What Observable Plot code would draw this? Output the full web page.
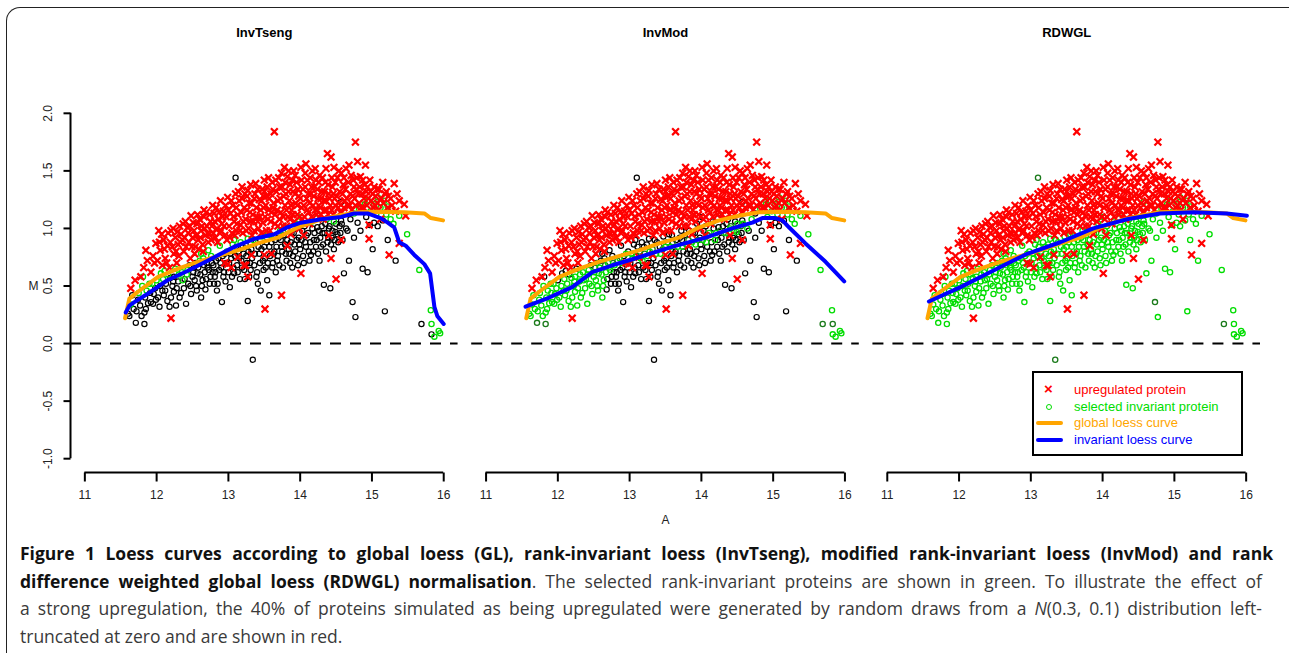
<!DOCTYPE html>
<html>
<head>
<meta charset="utf-8">
<script src="https://cdn.jsdelivr.net/npm/d3@7"></script>
<script src="https://cdn.jsdelivr.net/npm/@observablehq/plot@0.6"></script>
<style>
  html, body { margin: 0; padding: 0; background: #fff; }
  body { width: 1289px; height: 653px; position: relative; overflow: hidden; }
  #frame { position: absolute; left: 6px; top: 7px; width: 1300px; height: 700px;
           border-top: 1px solid #222; border-left: 1px solid #222; border-top-left-radius: 14px; }
  #chart { position: absolute; left: 0; top: 0; }
  #legend { position: absolute; left: 1032px; top: 371px; width: 207px; height: 81px;
            border: 2px solid #000; background: #fff; font-family: "Liberation Sans", Arial, sans-serif; font-size: 13px; }
  #legend .row { position: absolute; left: 0; height: 16px; line-height: 16px; }
  #legend .txt { position: absolute; left: 40px; white-space: nowrap; }
  #legend .sym { position: absolute; }
  #caption { position: absolute; left: 20px; top: 540px; width: 1242px;
             font-family: "Open Sans", sans-serif; font-size: 17.5px; line-height: 27.5px; color: #3a3a3a; }
  #caption .ln { text-align: justify; text-align-last: justify; white-space: nowrap; }
  #caption .ln.last { text-align-last: left; }
  #caption b { color: #111; font-weight: 700; }
</style>
</head>
<body>
<div id="frame"></div>
<div id="chart"></div>
<div id="legend">
  <div class="row" style="top:9px;width:100%"><span class="sym" style="left:10px;top:-1px;color:#f00;font-weight:bold;font-size:15px">×</span><span class="txt" style="color:#f00">upregulated protein</span></div>
  <div class="row" style="top:26px;width:100%"><span class="sym" style="left:12px;top:5px;width:4px;height:4px;border:1.3px solid #00dd00;border-radius:50%"></span><span class="txt" style="color:#00dd00">selected invariant protein</span></div>
  <div class="row" style="top:42px;width:100%"><span class="sym" style="left:2px;top:6px;width:27px;height:4px;background:#FFA500;border-radius:2px"></span><span class="txt" style="color:#FFA500">global loess curve</span></div>
  <div class="row" style="top:59px;width:100%"><span class="sym" style="left:2px;top:6px;width:27px;height:4px;background:#0000FF;border-radius:2px"></span><span class="txt" style="color:#0000FF">invariant loess curve</span></div>
</div>
<div id="caption">
  <div class="ln" id="l1" style="width:1253px"><b>Figure 1 Loess curves according to global loess (GL), rank-invariant loess (InvTseng), modified rank-invariant loess (InvMod) and rank</b></div>
  <div class="ln"><b>difference weighted global loess (RDWGL) normalisation</b>. The selected rank-invariant proteins are shown in green. To illustrate the effect of</div>
  <div class="ln">a strong upregulation, the 40% of proteins simulated as being upregulated were generated by random draws from a <i>N</i>(0.3, 0.1) distribution left-</div>
  <div class="ln last">truncated at zero and are shown in red.</div>
</div>
<script>
const panels = ["InvTseng", "InvMod", "RDWGL"];
const xTicks = [11, 12, 13, 14, 15, 16];
const yTicks = [-1, -0.5, 0, 0.5, 1, 1.5, 2];

// upregulated proteins [A, M] (same proteins in every panel)
const upregulated = [
 [11.64,0.48],[11.70,0.55],[11.78,0.58],[11.82,0.66],[11.85,0.81],[11.87,0.72],[11.92,0.62],[11.95,0.76],[11.99,0.87],[11.97,0.70],
 [12.03,0.98],[12.05,0.81],[12.08,0.68],[12.10,0.90],[12.12,0.74],[12.15,0.85],[12.18,0.66],[12.20,0.98],[12.20,0.22],[12.24,0.78],
 [12.26,0.92],[12.28,0.70],[12.30,0.86],[12.32,1.02],[12.34,0.95],[12.36,0.90],[12.38,0.80],[12.40,1.06],[12.43,1.01],[12.45,0.88],
 [12.48,1.11],[12.50,0.92],[12.47,0.74],
 [12.52,0.98],[12.54,0.84],[12.56,1.04],[12.58,0.90],[12.60,1.08],[12.62,0.98],[12.64,0.86],[12.66,1.10],[12.66,1.16],[12.68,0.94],
 [12.70,1.02],[12.72,0.88],[12.73,0.95],[12.75,1.06],[12.78,1.20],[12.80,1.13],[12.82,0.92],[12.84,1.00],[12.86,1.08],[12.88,0.96],
 [12.89,1.24],[12.91,1.04],[12.93,1.15],[12.95,0.94],[12.97,1.10],[12.99,1.27],[12.99,0.69],[12.95,0.70],
 [13.01,1.02],[13.03,1.13],[13.05,0.96],[13.06,1.20],[13.08,1.06],[13.10,1.30],[13.11,0.98],[13.13,1.12],[13.13,0.75],[13.15,1.24],
 [13.17,1.03],[13.19,1.36],[13.20,0.96],[13.22,1.18],[13.24,1.08],[13.24,0.68],[13.26,1.28],[13.27,1.33],[13.27,0.58],[13.28,1.00],
 [13.30,1.14],[13.32,1.22],[13.33,0.94],[13.35,1.06],[13.37,1.30],[13.38,1.39],[13.40,1.10],[13.42,1.00],[13.43,1.25],[13.45,1.16],
 [13.47,1.34],[13.48,1.05],[13.50,1.42],[13.50,1.32],[13.50,0.77],[13.51,0.30],[13.04,0.66],[13.22,0.68],[13.32,0.77],
 [13.52,1.20],[13.54,1.36],[13.55,1.08],[13.57,1.26],[13.58,0.98],[13.60,1.14],[13.61,1.40],[13.63,1.22],[13.64,1.84],[13.65,1.04],
 [13.67,1.32],[13.68,1.16],[13.70,1.44],[13.71,1.08],[13.72,1.26],[13.74,0.42],[13.75,1.36],[13.76,1.02],[13.78,1.53],[13.79,1.20],
 [13.80,1.30],[13.82,1.45],[13.82,0.85],[13.83,1.10],[13.85,1.24],[13.86,1.38],[13.87,0.95],[13.88,1.16],[13.90,1.32],[13.91,1.50],
 [13.92,1.06],[13.94,1.22],[13.95,1.40],[13.96,1.12],[13.98,1.28],[13.99,1.00],[13.60,0.78],
 [14.01,1.53],[14.01,0.61],[14.02,1.18],[14.04,1.34],[14.05,0.94],[14.06,1.10],[14.08,1.56],[14.09,1.26],[14.10,1.42],[14.12,1.14],
 [14.13,1.04],[14.15,1.30],[14.17,1.50],[14.18,1.20],[14.20,1.36],[14.22,1.42],[14.23,1.12],[14.25,1.26],[14.27,1.46],[14.28,1.18],
 [14.30,1.32],[14.32,1.08],[14.33,1.24],[14.35,1.40],[14.37,1.16],[14.38,1.65],[14.40,1.30],[14.40,0.94],[14.42,1.20],[14.43,1.62],
 [14.43,0.74],[14.45,1.36],[14.46,1.12],[14.47,1.53],[14.48,1.26],[14.50,0.56],
 [14.52,1.44],[14.53,1.18],[14.55,1.32],[14.57,1.48],[14.57,0.90],[14.58,1.14],[14.60,1.38],[14.62,1.24],[14.64,1.52],[14.66,1.20],
 [14.68,1.55],[14.70,1.30],[14.72,1.16],[14.74,1.42],[14.76,1.26],[14.77,1.75],[14.78,1.34],[14.80,1.58],[14.82,1.22],[14.84,1.45],
 [14.86,1.30],[14.88,1.18],[14.90,1.38],[14.91,1.55],[14.94,1.36],[14.95,1.26],[14.96,1.03],[14.96,0.91],[14.98,1.32],
 [15.02,1.18],[15.03,1.36],[15.05,1.28],[15.08,1.22],[15.10,1.34],[15.12,1.08],[15.15,1.40],[15.18,1.30],[15.22,1.18],[15.24,0.77],
 [15.26,1.26],[15.31,1.39],[15.33,1.15],[15.38,1.24],[15.38,0.87],[15.45,1.21],[15.47,1.11],
 [12.01,0.72],[12.04,0.88],[12.07,0.95],[12.11,0.82],[12.14,0.70],[12.16,0.96],[12.19,0.88],[12.22,0.84],[12.23,1.00],[12.27,0.80],
 [12.29,0.97],[12.31,0.76],[12.33,0.88],[12.37,1.04],[12.39,0.92],[12.41,0.84],[12.44,0.96],[12.46,1.02],[12.49,0.84],[12.51,1.05],
 [12.53,0.78],[12.55,0.94],[12.57,1.12],[12.59,0.82],
 [12.61,0.92],[12.63,1.02],[12.65,0.80],[12.67,1.00],[12.69,1.14],[12.71,0.96],[12.74,1.12],[12.76,0.90],[12.77,1.02],[12.79,0.96],
 [12.81,1.06],[12.83,1.18],[12.85,0.88],[12.87,1.14],[12.90,0.98],[12.92,1.10],[12.94,1.02],[12.96,1.20],[12.98,0.90],
 [13.00,1.16],[13.02,0.92],[13.04,1.24],[13.07,1.10],[13.09,0.94],[13.11,1.18],[13.12,1.04],[13.14,1.32],[13.16,0.98],[13.18,1.14],
 [13.19,1.26],[13.21,1.06],[13.23,1.30],[13.25,0.98],[13.26,1.16],[13.29,1.22],[13.31,1.06],[13.31,1.38],[13.34,1.12],[13.36,1.26],
 [13.36,0.98],[13.39,1.18],[13.41,1.34],[13.41,1.06],[13.44,1.10],[13.46,1.24],[13.46,0.96],[13.49,1.18],[13.49,1.28],
 [13.51,1.10],[13.53,1.28],[13.53,0.98],[13.56,1.16],[13.56,1.44],[13.59,1.30],[13.59,1.06],[13.62,1.18],[13.62,1.34],[13.65,1.12],
 [13.66,1.42],[13.69,1.24],[13.69,1.02],[13.71,1.36],[13.73,1.14],[13.74,1.48],[13.77,1.28],[13.77,1.10],[13.79,1.40],[13.81,1.16],
 [13.81,1.02],[13.84,1.32],[13.84,1.50],[13.86,1.08],[13.87,1.20],[13.89,1.42],[13.90,1.12],[13.93,1.30],[13.93,1.46],[13.96,1.20],
 [13.97,1.34],[13.99,1.10],
 [14.00,1.26],[14.02,1.42],[14.03,1.08],[14.05,1.20],[14.07,1.36],[14.07,1.48],[14.10,1.16],[14.11,1.30],[14.13,1.22],[14.14,1.44],
 [14.16,1.10],[14.16,1.36],[14.19,1.28],[14.21,1.16],[14.21,1.52],[14.24,1.34],[14.26,1.20],[14.26,1.40],[14.29,1.26],[14.29,1.12],
 [14.31,1.44],[14.34,1.16],[14.34,1.32],[14.36,1.24],[14.36,1.52],[14.39,1.12],[14.39,1.38],[14.41,1.26],[14.44,1.44],[14.44,1.16],
 [14.46,1.30],[14.49,1.20],[14.49,1.40],
 [14.51,1.28],[14.54,1.22],[14.54,1.50],[14.56,1.14],[14.59,1.30],[14.61,1.44],[14.61,1.18],[14.63,1.34],[14.65,1.26],[14.67,1.40],
 [14.69,1.20],[14.71,1.46],[14.73,1.28],[14.75,1.36],[14.77,1.20],[14.79,1.44],[14.81,1.30],[14.83,1.36],[14.85,1.18],[14.87,1.42],
 [14.89,1.26],[14.92,1.32],[14.93,1.20],[14.97,1.42],[14.99,1.24],[15.01,1.30],[15.04,1.20],[15.07,1.34],[15.09,1.16],[15.13,1.26],
 [15.16,1.22],[15.20,1.32],[15.23,1.28],[15.28,1.20],[15.35,1.30]
];

// other proteins [A, M, selected InvTseng, selected InvMod, selected RDWGL]  (0 = not selected, 1 = selected, 2 = selected, low weight)
const unregulated = [
 [11.60,0.26,0,1,1],[11.62,0.24,0,1,1],[11.64,0.34,1,1,1],[11.66,0.42,0,1,1],[11.68,0.30,0,1,1],[11.71,0.18,0,2,1],[11.72,0.28,0,1,1],
 [11.74,0.38,0,1,1],[11.75,0.44,1,1,1],[11.77,0.33,0,1,1],[11.79,0.24,0,1,1],[11.80,0.50,1,1,1],[11.81,0.58,1,0,1],[11.83,0.17,0,2,1],
 [11.83,0.27,0,1,1],[11.84,0.40,0,1,1],[11.86,0.46,1,1,1],[11.88,0.35,0,1,1],[11.90,0.52,1,1,1],[11.92,0.36,0,1,1],[11.95,0.345,0,1,1],
 [11.96,0.43,0,1,1],[11.98,0.48,0,1,1],[12.00,0.55,1,0,1],
 [12.02,0.40,0,1,1],[12.04,0.32,0,1,1],[12.06,0.61,1,0,1],[12.08,0.46,0,1,1],[12.10,0.42,0,1,1],[12.11,0.63,1,0,1],[12.13,0.52,0,1,1],
 [12.15,0.37,0,1,1],[12.18,0.32,0,1,1],[12.19,0.57,0,1,1],[12.22,0.50,0,1,1],[12.24,0.45,0,1,1],[12.24,0.58,0,1,1],[12.26,0.65,1,0,1],
 [12.27,0.33,0,1,1],[12.30,0.54,0,1,1],[12.32,0.40,0,1,1],[12.35,0.62,1,1,1],[12.36,0.55,1,1,1],[12.38,0.48,0,1,1],[12.41,0.345,0,1,1],
 [12.42,0.60,1,1,1],[12.44,0.52,0,1,1],[12.46,0.68,0,0,1],[12.48,0.43,0,1,1],
 [12.50,0.58,0,1,1],[12.52,0.66,0,2,1],[12.55,0.50,0,1,1],[12.57,0.61,0,1,1],[12.60,0.72,1,0,1],[12.62,0.40,0,1,1],[12.62,0.78,1,0,1],
 [12.64,0.55,0,1,1],[12.66,0.68,0,2,1],[12.68,0.47,0,0,1],[12.71,0.66,0,1,1],[12.72,0.81,1,0,1],[12.75,0.58,0,0,1],[12.77,0.70,0,2,1],
 [12.80,0.52,0,0,1],[12.82,0.62,0,0,1],[12.85,0.52,0,0,1],[12.86,0.74,0,1,1],[12.88,0.85,1,0,1],[12.90,0.66,0,0,1],[12.91,0.36,0,0,1],
 [12.93,0.58,0,0,1],[12.95,0.78,0,1,1],[12.97,0.70,0,1,1],
 [13.00,0.62,0,0,1],[13.02,0.49,0,0,1],[13.04,0.74,0,1,1],[13.06,0.86,1,0,1],[13.08,0.61,0,0,1],[13.08,0.90,1,0,1],[13.10,1.44,0,0,2],
 [13.12,0.68,0,0,1],[13.14,0.80,0,2,1],[13.16,0.56,0,0,1],[13.18,0.72,0,1,1],[13.20,0.84,0,0,1],[13.22,0.64,0,0,1],[13.25,0.76,0,1,1],
 [13.27,0.37,0,0,1],[13.27,0.91,1,0,1],[13.29,0.58,0,0,1],[13.30,0.70,0,0,1],[13.32,0.82,0,2,1],[13.34,-0.14,0,0,2],[13.36,0.68,0,0,1],
 [13.38,0.88,0,0,1],[13.40,0.62,0,0,1],[13.41,0.52,0,0,1],[13.43,0.78,0,1,1],[13.45,0.46,0,0,1],[13.47,0.93,1,0,1],[13.48,0.72,0,0,1],
 [13.50,0.84,0,1,1],[13.52,0.66,0,0,1],[13.54,0.55,0,0,1],[13.55,0.95,1,0,1],[13.57,0.42,0,0,1],[13.58,0.76,0,0,1],[13.60,0.88,0,2,1],
 [13.62,0.70,0,0,1],[13.64,0.80,0,0,1],[13.66,0.62,0,0,1],[13.68,0.72,0,0,1],[13.70,0.92,0,0,1],[13.72,0.98,1,0,1],[13.74,0.84,0,1,1],
 [13.76,0.66,0,0,1],[13.78,1.01,1,0,1],[13.80,0.78,0,0,1],[13.82,0.90,0,2,1],[13.85,0.78,0,0,1],[13.86,0.70,0,0,1],[13.88,0.96,0,0,1],
 [13.89,0.66,0,0,1],[13.92,0.86,0,1,1],[13.94,1.04,1,0,1],[13.96,0.74,0,0,1],[13.98,0.92,0,0,1],
 [14.00,0.82,0,0,1],[14.01,1.10,1,0,1],[14.03,0.98,0,0,1],[14.05,0.70,0,0,1],[14.07,0.88,0,1,1],[14.09,0.94,0,2,1],[14.12,0.80,0,0,1],
 [14.15,0.77,0,0,1],[14.17,1.00,0,0,1],[14.19,0.90,0,1,1],[14.22,0.84,0,0,1],[14.24,1.13,1,0,1],[14.24,1.01,0,0,1],[14.27,0.72,0,0,1],
 [14.29,0.84,0,0,1],[14.31,0.96,0,2,1],[14.33,0.51,0,0,1],[14.35,1.04,0,0,1],[14.38,0.88,0,0,1],[14.40,1.00,0,1,1],[14.42,0.48,0,0,1],
 [14.44,0.92,0,0,1],[14.47,0.82,0,0,1],[14.47,1.06,1,0,1],[14.49,0.97,0,1,1],
 [14.52,0.95,0,0,1],[14.55,1.02,0,2,1],[14.57,1.23,0,0,1],[14.57,1.07,0,0,1],[14.59,0.90,0,0,1],[14.61,0.61,0,0,1],[14.64,1.00,0,1,1],
 [14.66,0.98,0,0,1],[14.68,0.72,0,0,1],[14.70,1.08,0,1,1],[14.73,0.36,0,0,2],[14.75,0.92,0,0,1],[14.75,1.13,1,0,1],[14.77,0.23,0,0,1],
 [14.80,1.05,0,0,1],[14.82,1.17,1,1,1],[14.84,0.98,0,0,1],[14.87,0.65,0,0,1],[14.90,1.21,1,1,1],[14.92,1.10,0,1,1],[14.94,0.62,0,0,1],
 [14.94,1.24,1,1,1],[14.97,1.03,0,0,1],[14.98,1.15,1,1,1],
 [15.01,0.82,0,0,1],[15.03,1.05,0,0,1],[15.03,1.21,1,1,1],[15.06,1.12,1,1,1],[15.08,1.27,1,1,1],[15.08,1.02,0,0,1],[15.12,1.18,1,1,1],
 [15.15,1.07,0,0,1],[15.17,1.24,1,1,1],[15.18,0.28,0,0,1],[15.20,1.12,1,1,1],[15.22,0.90,0,0,1],[15.22,1.19,1,1,1],[15.26,1.08,1,1,1],
 [15.30,1.04,1,1,1],[15.33,0.72,0,0,1],[15.38,1.11,1,1,1],[15.49,0.95,1,1,1],[15.66,0.64,1,1,1],[15.69,0.17,0,2,2],[15.82,0.29,1,1,1],
 [15.83,0.17,1,2,1],[15.83,0.08,0,1,1],[15.87,0.06,1,1,1],[15.93,0.11,1,1,1],[15.95,0.09,1,1,1],
 [12.51,0.62,0,1,1],[12.53,0.55,0,1,1],[12.54,0.70,0,2,1],[12.56,0.46,0,1,1],[12.58,0.66,0,1,1],[12.61,0.60,0,1,1],[12.63,0.50,0,1,1],
 [12.65,0.74,1,0,1],[12.67,0.62,0,1,1],[12.69,0.56,0,0,1],[12.70,0.70,0,1,1],[12.73,0.64,0,1,1],[12.74,0.52,0,0,1],[12.76,0.76,1,0,1],
 [12.78,0.62,0,0,1],[12.79,0.68,0,1,1],[12.81,0.58,0,0,1],[12.83,0.72,0,2,1],[12.84,0.46,0,0,1],[12.87,0.64,0,0,1],[12.89,0.70,0,1,1],
 [12.92,0.76,0,0,1],[12.94,0.62,0,0,1],[12.96,0.54,0,0,1],[12.98,0.80,1,0,1],
 [13.01,0.70,0,0,1],[13.03,0.78,0,1,1],[13.05,0.58,0,0,1],[13.07,0.66,0,0,1],[13.09,0.76,0,2,1],[13.11,0.84,0,0,1],[13.13,0.62,0,0,1],
 [13.15,0.74,0,1,1],[13.17,0.88,1,0,1],[13.19,0.66,0,0,1],[13.21,0.78,0,2,1],[13.23,0.56,0,0,1],[13.24,0.86,0,0,1],[13.26,0.70,0,0,1],
 [13.28,0.80,0,1,1],[13.31,0.64,0,0,1],[13.33,0.74,0,0,1],[13.35,0.90,1,0,1],[13.37,0.78,0,1,1],[13.39,0.58,0,0,1],[13.42,0.84,0,0,1],
 [13.44,0.70,0,0,1],[13.46,0.82,0,2,1],[13.49,0.64,0,0,1],
 [13.51,0.74,0,0,1],[13.53,0.88,0,0,1],[13.55,0.70,0,0,1],[13.57,0.84,0,1,1],[13.59,0.94,1,0,1],[13.61,0.66,0,0,1],[13.63,0.78,0,0,1],
 [13.65,0.90,0,0,1],[13.67,0.84,0,1,1],[13.69,0.76,0,0,1],[13.71,0.68,0,0,1],[13.73,0.90,0,0,1],[13.75,0.80,0,0,1],[13.77,0.94,0,0,1],
 [13.79,0.86,0,2,1],[13.81,0.72,0,0,1],[13.83,0.98,1,0,1],[13.84,0.82,0,0,1],[13.87,0.88,0,1,1],[13.90,0.76,0,0,1],[13.91,0.96,0,0,1],
 [13.93,0.80,0,0,1],[13.95,0.90,0,2,1],[13.97,0.68,0,0,1],[13.99,0.86,0,0,1],
 [14.02,0.90,0,1,1],[14.04,0.76,0,0,1],[14.06,1.02,0,0,1],[14.08,0.84,0,0,1],[14.11,0.96,0,1,1],[14.13,0.72,0,0,1],[14.14,0.88,0,0,1],
 [14.16,1.06,1,0,1],[14.18,0.80,0,0,1],[14.20,0.96,0,1,1],[14.23,0.90,0,0,1],[14.25,0.78,0,0,1],[14.26,0.98,0,2,1],[14.28,0.92,0,0,1],
 [14.30,1.02,0,0,1],[14.32,0.86,0,0,1],[14.34,0.96,0,1,1],[14.36,0.80,0,0,1],[14.37,1.08,1,0,1],[14.39,0.92,0,0,1],[14.41,1.02,0,2,1],
 [14.43,0.86,0,0,1],[14.45,0.98,0,1,1],[14.48,0.90,0,0,1],[14.50,1.04,0,1,1],[14.53,0.88,0,0,1],[14.56,0.96,0,0,1],[14.58,1.04,0,1,1],
 [11.85,0.30,0,1,1],[11.91,0.44,0,1,1],[11.94,0.52,1,1,1],[11.99,0.38,0,1,1],[12.05,0.50,0,1,1],[12.09,0.56,1,1,1],[12.12,0.46,0,1,1],
 [12.16,0.60,1,0,1],[12.20,0.40,0,1,1],[12.23,0.54,0,1,1],[12.28,0.48,0,1,1],[12.31,0.60,1,1,1],[12.34,0.44,0,1,1],[12.39,0.56,0,1,1],
 [12.43,0.64,1,1,1],[12.47,0.50,0,1,1]
];

// loess curves [A, M]
const globalLoess = [
 [11.56,0.22],[11.62,0.39],[11.74,0.45],[12.02,0.58],[12.30,0.65],[12.57,0.71],[12.85,0.76],[13.13,0.81],[13.41,0.87],
 [13.69,0.92],[13.97,1.01],[14.25,1.07],[14.52,1.11],[14.80,1.14],[15.08,1.145],[15.45,1.14],[15.73,1.13],[15.82,1.09],[15.99,1.07]
];
const invLoessInvTseng = [
 [11.57,0.27],[11.62,0.33],[11.69,0.36],[11.87,0.43],[12.15,0.55],[12.43,0.63],[12.71,0.72],[13.08,0.84],[13.36,0.91],
 [13.64,0.95],[13.82,1.01],[14.01,1.05],[14.29,1.08],[14.57,1.10],[14.75,1.13],[14.94,1.13],[15.12,1.09],[15.22,1.05],
 [15.31,1.01],[15.38,0.88],[15.47,0.85],[15.59,0.77],[15.73,0.69],[15.81,0.61],[15.87,0.32],[15.91,0.24],[16.0,0.17]
];
const invLoessInvMod = [
 [11.55,0.32],[11.88,0.40],[12.20,0.49],[12.48,0.62],[12.76,0.68],[13.13,0.75],[13.59,0.84],[14.06,0.92],[14.43,1.0],
 [14.71,1.05],[14.85,1.09],[15.03,1.09],[15.13,1.07],[15.22,1.01],[15.45,0.87],[15.73,0.71],[15.99,0.54]
];
const invLoessRDWGL = [
 [11.58,0.365],[12.02,0.49],[12.48,0.635],[12.95,0.78],[13.41,0.88],[13.87,1.0],[14.34,1.08],[14.80,1.13],[15.27,1.14],[15.73,1.13],[16.01,1.11]
];

const xDomain = [10.8, 16.2];
const yDomain = [-1.12, 2.12];

const redRows = panels.flatMap(p => upregulated.map(([A, M]) => ({panel: p, A, M})));
const otherRows = panels.flatMap((p, i) => unregulated.map(d => ({panel: p, A: d[0], M: d[1], sel: d[2 + i]})));
const glRows = panels.flatMap(p => globalLoess.map(([A, M]) => ({panel: p, A, M})));
const invRows = [invLoessInvTseng, invLoessInvMod, invLoessRDWGL]
  .flatMap((c, i) => c.map(([A, M]) => ({panel: panels[i], A, M})));

const tickLeft = {draw(ctx) { ctx.moveTo(0, 0); ctx.lineTo(-7, 0); }};
const tickDown = {draw(ctx) { ctx.moveTo(0, 0); ctx.lineTo(0, 9); }};
const first = () => panels[0];

const chart = Plot.plot({
  width: 1289, height: 530,
  marginLeft: 70, marginRight: 29, marginTop: 99, marginBottom: 58,
  x: {domain: xDomain, axis: null},
  y: {domain: yDomain, axis: null},
  fx: {domain: panels, paddingInner: 0.034, paddingOuter: 0, round: false, axis: null},
  style: {fontFamily: "'Liberation Sans', Arial, sans-serif", fontSize: "12px", background: "transparent", color: "#000"},
  marks: [
    Plot.text(panels, {fx: d => d, text: d => d, frameAnchor: "top", dy: -67, lineAnchor: "middle", textAnchor: "middle", fontWeight: "bold", fontSize: 13}),
    Plot.ruleX([xDomain[0]], {fx: first, y1: yTicks[0], y2: yTicks[yTicks.length - 1], stroke: "#000", strokeWidth: 2}),
    Plot.dot(yTicks, {fx: first, y: d => d, frameAnchor: "left", symbol: tickLeft, stroke: "#000", strokeWidth: 2, fill: "none"}),
    Plot.text(yTicks, {fx: first, y: d => d, frameAnchor: "left", text: d => d.toFixed(1), rotate: -90, dx: -22, textAnchor: "middle", lineAnchor: "middle", fill: "#222"}),
    Plot.text(["M"], {fx: first, frameAnchor: "left", text: d => d, dx: -37, textAnchor: "middle", lineAnchor: "middle", fill: "#222"}),
    Plot.ruleY([yDomain[0]], {x1: xTicks[0], x2: xTicks[xTicks.length - 1], stroke: "#000", strokeWidth: 2}),
    Plot.dot(xTicks, {x: d => d, frameAnchor: "bottom", symbol: tickDown, stroke: "#000", strokeWidth: 2, fill: "none"}),
    Plot.text(xTicks, {x: d => d, frameAnchor: "bottom", text: d => String(d), dy: 23, textAnchor: "middle", lineAnchor: "middle", fill: "#222"}),
    Plot.text(["A"], {fx: () => panels[1], frameAnchor: "bottom", text: d => d, dy: 48, textAnchor: "middle", lineAnchor: "middle", fill: "#222"}),
    Plot.ruleY([0], {stroke: "#000", strokeWidth: 2, strokeDasharray: "11,9"}),
    Plot.dot(otherRows.filter(d => d.sel === 0), {fx: "panel", x: "A", y: "M", r: 2.6, stroke: "#000", strokeWidth: 1.2, fill: "none"}),
    Plot.dot(otherRows.filter(d => d.sel === 2), {fx: "panel", x: "A", y: "M", r: 2.6, stroke: "#1a7a1a", strokeWidth: 1.3, fill: "none"}),
    Plot.dot(otherRows.filter(d => d.sel === 1), {fx: "panel", x: "A", y: "M", r: 2.6, stroke: "#00dd00", strokeWidth: 1.3, fill: "none"}),
    Plot.dot(redRows, {fx: "panel", x: "A", y: "M", symbol: "times", r: 3.2, stroke: "#ff0000", strokeWidth: 2.2}),
    Plot.line(glRows, {fx: "panel", x: "A", y: "M", stroke: "#FFA500", strokeWidth: 4}),
    Plot.line(invRows, {fx: "panel", x: "A", y: "M", stroke: "#0000FF", strokeWidth: 4})
  ]
});
document.getElementById("chart").appendChild(chart);
</script>
</body>
</html>
